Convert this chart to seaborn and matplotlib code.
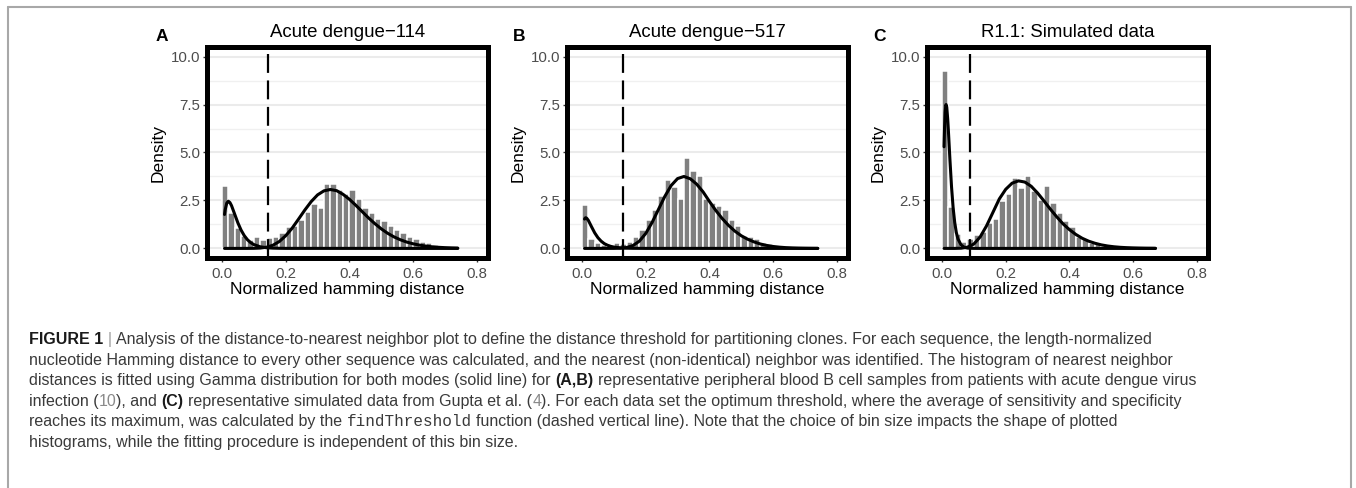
import numpy as np
import pandas as pd
import matplotlib
matplotlib.use("Agg")
import matplotlib.pyplot as plt
from matplotlib.lines import Line2D
from matplotlib.ticker import MultipleLocator, FixedLocator, FixedFormatter
import seaborn as sns

# ---------------- data ----------------
titles = ["Acute dengue\u2212114", "Acute dengue\u2212517", "R1.1: Simulated data"]
panel_letters = ["A", "B", "C"]
thresholds = [0.143, 0.130, 0.088]
bin_width = 0.02

hist_A = [3.23, 1.85, 1.07, 0.66, 0.45, 0.57, 0.45, 0.52, 0.57, 0.82, 1.12, 1.19,
          1.46, 1.88, 2.34, 2.12, 3.37, 3.37, 3.05, 2.85, 3.05, 2.60, 2.10, 1.85,
          1.55, 1.45, 1.15, 0.95, 0.78, 0.62, 0.48, 0.36, 0.26, 0.18, 0.12, 0.08, 0.05]
hist_B = [2.27, 0.49, 0.30, 0.17, 0.12, 0.26, 0.23, 0.35, 0.61, 0.96, 1.49, 2.00,
          2.74, 3.58, 3.18, 2.57, 4.72, 4.02, 3.76, 2.57, 2.36, 2.19, 1.98, 1.49,
          1.17, 0.65, 0.61, 0.47, 0.30, 0.23, 0.14, 0.10, 0.07, 0.05, 0.04, 0.03, 0.02]
hist_C = [9.25, 2.15, 0.73, 0.35, 0.47, 0.70, 0.87, 1.31, 1.52, 2.45, 2.85, 3.67,
          3.15, 3.77, 2.97, 2.50, 3.23, 2.36, 1.84, 1.45, 1.10, 0.61, 0.51, 0.30,
          0.21, 0.12, 0.09, 0.05, 0.03, 0.02, 0.01, 0.01, 0.005]

# fitted gamma curves
fit1_A_x = [0.008, 0.01, 0.015, 0.02, 0.025, 0.03, 0.04, 0.05, 0.06, 0.07, 0.08, 0.09,
            0.10, 0.12, 0.14, 0.16, 0.18, 0.20, 0.74]
fit1_A_y = [1.77, 2.01, 2.36, 2.46, 2.39, 2.23, 1.78, 1.33, 0.955, 0.664, 0.452, 0.303,
            0.200, 0.085, 0.035, 0.014, 0.006, 0.002, 0.0]
fit2_A_x = [0.008, 0.08, 0.10, 0.12, 0.14, 0.16, 0.18, 0.20, 0.22, 0.24, 0.26, 0.28,
            0.30, 0.32, 0.34, 0.36, 0.38, 0.40, 0.42, 0.44, 0.46, 0.48, 0.50, 0.52,
            0.54, 0.56, 0.58, 0.60, 0.62, 0.64, 0.66, 0.68, 0.70, 0.72, 0.74]
fit2_A_y = [0.0, 0.001, 0.004, 0.018, 0.063, 0.166, 0.36, 0.66, 1.05, 1.52, 2.00, 2.44,
            2.79, 3.00, 3.07, 3.01, 2.82, 2.56, 2.25, 1.92, 1.59, 1.29, 1.02, 0.79,
            0.60, 0.45, 0.33, 0.24, 0.17, 0.12, 0.083, 0.057, 0.039, 0.026, 0.017]

fit1_B_x = [0.008, 0.01, 0.012, 0.015, 0.02, 0.03, 0.04, 0.05, 0.06, 0.07, 0.08, 0.09,
            0.10, 0.12, 0.14, 0.16, 0.20, 0.74]
fit1_B_y = [1.53, 1.58, 1.60, 1.57, 1.46, 1.13, 0.81, 0.56, 0.38, 0.25, 0.167, 0.108,
            0.070, 0.029, 0.012, 0.005, 0.001, 0.0]
fit2_B_x = [0.008, 0.10, 0.12, 0.14, 0.16, 0.18, 0.20, 0.22, 0.24, 0.26, 0.28, 0.30,
            0.32, 0.34, 0.36, 0.38, 0.40, 0.42, 0.44, 0.46, 0.48, 0.50, 0.52, 0.54,
            0.56, 0.58, 0.60, 0.62, 0.64, 0.66, 0.68, 0.70, 0.72, 0.74]
fit2_B_y = [0.0, 0.002, 0.0095, 0.045, 0.149, 0.376, 0.776, 1.35, 2.03, 2.71, 3.28, 3.64,
            3.75, 3.63, 3.35, 2.95, 2.45, 1.98, 1.56, 1.20, 0.90, 0.66, 0.48, 0.34,
            0.23, 0.155, 0.10, 0.065, 0.04, 0.025, 0.015, 0.009, 0.005, 0.003]

fit1_C_x = [0.0065, 0.008, 0.010, 0.012, 0.013, 0.015, 0.018, 0.020, 0.025, 0.030, 0.035,
            0.040, 0.045, 0.050, 0.060, 0.070, 0.080, 0.090, 0.100, 0.120, 0.67]
fit1_C_y = [5.30, 6.25, 7.09, 7.48, 7.50, 7.36, 6.74, 6.18, 4.62, 3.21, 2.12,
            1.35, 0.83, 0.50, 0.18, 0.058, 0.018, 0.006, 0.002, 0.0, 0.0]
fit2_C_x = [0.0065, 0.04, 0.06, 0.08, 0.10, 0.12, 0.14, 0.16, 0.18, 0.20, 0.22, 0.24,
            0.26, 0.28, 0.30, 0.32, 0.34, 0.36, 0.38, 0.40, 0.42, 0.44, 0.46, 0.48,
            0.50, 0.52, 0.54, 0.56, 0.58, 0.60, 0.62, 0.64, 0.66, 0.67]
fit2_C_y = [0.0, 0.0003, 0.010, 0.064, 0.228, 0.60, 1.18, 1.88, 2.58, 3.08, 3.40, 3.52,
            3.46, 3.24, 2.89, 2.48, 2.05, 1.65, 1.28, 0.98, 0.73, 0.53, 0.38, 0.27,
            0.185, 0.126, 0.085, 0.057, 0.038, 0.025, 0.016, 0.010, 0.007, 0.005]

y_ticks = [0.0, 2.5, 5.0, 7.5, 10.0]
y_ticklabels = ["0.0", "2.5", "5.0", "7.5", "10.0"]
x_ticks = [0.0, 0.2, 0.4, 0.6, 0.8]
x_ticklabels = ["0.0", "0.2", "0.4", "0.6", "0.8"]
x_label = "Normalized hamming distance"
y_label = "Density"

# caption pieces: (text, style, space_before)
caption_lines = [
    [("FIGURE 1", "bold", False), ("|", "bar", True),
     ("Analysis of the distance-to-nearest neighbor plot to define the distance threshold for partitioning clones. For each sequence, the length-normalized", "reg", True)],
    [("nucleotide Hamming distance to every other sequence was calculated, and the nearest (non-identical) neighbor was identified. The histogram of nearest neighbor", "reg", False)],
    [("distances is fitted using Gamma distribution for both modes (solid line) for", "reg", False),
     ("(A,B)", "bold", True),
     ("representative peripheral blood B cell samples from patients with acute dengue virus", "reg", True)],
    [("infection (", "reg", False), ("10", "link", False), ("), and", "reg", False),
     ("(C)", "bold", True), ("representative simulated data from Gupta et al. (", "reg", True),
     ("4", "link", False),
     ("). For each data set the optimum threshold, where the average of sensitivity and specificity", "reg", False)],
    [("reaches its maximum, was calculated by the", "reg", False), ("findThreshold", "mono", True),
     ("function (dashed vertical line). Note that the choice of bin size impacts the shape of plotted", "reg", True)],
    [("histograms, while the fitting procedure is independent of this bin size.", "reg", False)],
]

# ---------------- style ----------------
sns.set_theme(style="white")
plt.rcParams['font.family'] = ['Liberation Sans', 'DejaVu Sans']

W, H = 1356, 488
fig = plt.figure(figsize=(W / 100, H / 100), dpi=100)
fig.patch.set_facecolor("white")


def px_axes(l, t, r, b):
    return fig.add_axes([l / W, 1 - b / H, (r - l) / W, (b - t) / H])


hists = [hist_A, hist_B, hist_C]
fits = [((fit1_A_x, fit1_A_y), (fit2_A_x, fit2_A_y)),
        ((fit1_B_x, fit1_B_y), (fit2_B_x, fit2_B_y)),
        ((fit1_C_x, fit1_C_y), (fit2_C_x, fit2_C_y))]
lefts = [207, 567, 927]
letter_x = [156, 513, 873]
AX_TOP, AX_BOT, AX_W = 47, 258, 281

for i in range(3):
    left = lefts[i]
    ax = px_axes(left, AX_TOP, left + AX_W, AX_BOT)
    ax.set_facecolor("white")
    ax.set_axisbelow(True)

    h = hists[i]
    n = len(h)
    centers = (np.arange(n) + 0.5) * bin_width
    df = pd.DataFrame({"dist": centers, "dens": h})
    sns.histplot(data=df, x="dist", weights="dens", bins=n,
                 binrange=(0.0, n * bin_width), stat="count",
                 color="#808080", edgecolor="white", linewidth=1.1, alpha=1.0, ax=ax,
                 zorder=2)

    for fx, fy in fits[i]:
        sns.lineplot(x=fx, y=fy, color="black", linewidth=2.2, estimator=None,
                     sort=False, ax=ax, zorder=3)

    ax.axvline(thresholds[i], color="black", linewidth=1.6, dashes=(8.5, 3.4), zorder=4)

    ax.set_xlim(-0.047, 0.835)
    ax.set_ylim(-0.5, 10.5)
    ax.xaxis.set_major_locator(FixedLocator(x_ticks))
    ax.xaxis.set_major_formatter(FixedFormatter(x_ticklabels))
    ax.yaxis.set_major_locator(FixedLocator(y_ticks))
    ax.yaxis.set_major_formatter(FixedFormatter(y_ticklabels))
    ax.yaxis.set_minor_locator(MultipleLocator(1.25))
    ax.grid(False)
    ax.yaxis.grid(True, which="major", color="#ebebeb", linewidth=1.5, zorder=0)
    ax.yaxis.grid(True, which="minor", color="#f0f0f0", linewidth=1.0, zorder=0)
    ax.tick_params(axis="both", which="major", length=2.7, width=1.0, color="#333333",
                   labelsize=10.8, labelcolor="#4d4d4d", left=True, bottom=True)
    ax.tick_params(axis="x", which="major", pad=4.1)
    ax.tick_params(axis="y", which="major", pad=2.3)
    ax.tick_params(axis="both", which="minor", length=0)

    for s in ax.spines.values():
        s.set_visible(True)
        s.set_linewidth(3.6)
        s.set_color("black")
        s.set_zorder(5)

    ax.set_xlabel(x_label, fontsize=12.5, color="black")
    ax.xaxis.set_label_coords(0.5, -0.115)
    ax.set_ylabel(y_label, fontsize=12.5, color="black")
    ax.yaxis.set_label_coords(-0.146, 0.5)
    ax.set_title(titles[i], fontsize=13.4, color="black", pad=7.4)

    fig.text(letter_x[i] / W, 1 - 40.7 / H, panel_letters[i], fontsize=12.5,
             fontweight="bold", color="black", ha="left", va="baseline")

# frame lines
frame_col = "#a8a8a8"
fig.add_artist(Line2D([8 / W, 8 / W], [0, 1 - 7 / H], transform=fig.transFigure,
                      color=frame_col, linewidth=1.5))
fig.add_artist(Line2D([8 / W, 1351 / W], [1 - 7 / H, 1 - 7 / H], transform=fig.transFigure,
                      color=frame_col, linewidth=1.5))
fig.add_artist(Line2D([1351 / W, 1351 / W], [0, 1 - 7 / H], transform=fig.transFigure,
                      color=frame_col, linewidth=1.5))

# caption
cax = fig.add_axes([0, 0, 1, 1])
cax.set_axis_off()
cax.patch.set_alpha(0)

CAP_SIZE = 11.5
styles = {
    "reg": dict(color="#3a3a3a", fontsize=CAP_SIZE),
    "bold": dict(color="#1a1a1a", fontsize=CAP_SIZE, fontweight="bold"),
    "bar": dict(color="#9a9a9a", fontsize=CAP_SIZE),
    "link": dict(color="#8a8a8a", fontsize=CAP_SIZE),
    "mono": dict(color="#3a3a3a", fontsize=CAP_SIZE, family=["Liberation Mono", "DejaVu Sans Mono"]),
}
space_pt = 0.278 * CAP_SIZE
base_y0 = 344.0
line_step = 20.6
for li, pieces in enumerate(caption_lines):
    y = base_y0 + li * line_step
    prev = None
    for text, st, sp in pieces:
        if prev is None:
            prev = cax.text(29 / W, 1 - y / H, text, transform=cax.transAxes,
                            ha="left", va="baseline", **styles[st])
        else:
            prev = cax.annotate(text, xy=(1, 0), xycoords=prev,
                                xytext=(space_pt if sp else 0, 0), textcoords="offset points",
                                ha="left", va="bottom", **styles[st])

fig.savefig("out.png", dpi=100, facecolor="white")
